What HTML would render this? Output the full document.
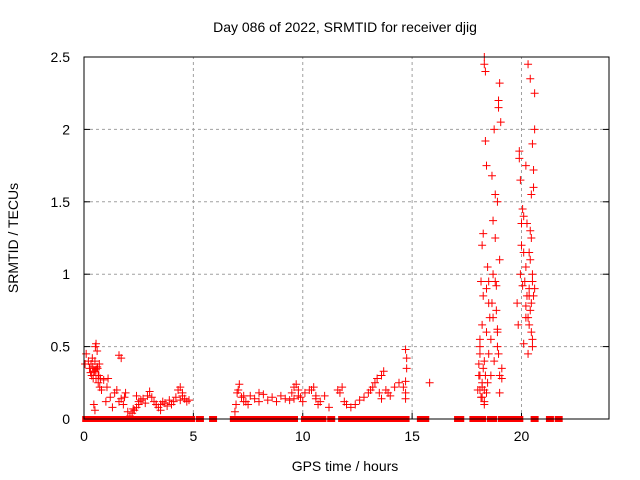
<!DOCTYPE html>
<html><head><meta charset="utf-8">
<style>
body{margin:0;background:#fff;}
svg{display:block;font-family:"Liberation Sans",sans-serif;}
</style></head>
<body>
<svg id="chart" width="640" height="480" viewBox="0 0 640 480">
<text x="345" y="32" font-size="14" text-anchor="middle">Day 086 of 2022, SRMTID for receiver djig</text>
<g id="grid"></g>
<g id="ticks"></g>
<g id="marks"></g>
<rect x="84" y="57" width="525" height="362" fill="none" stroke="#000" stroke-width="1"/>
<text x="345" y="471" font-size="14" text-anchor="middle">GPS time / hours</text>
<text transform="translate(18,238) rotate(-90)" font-size="14" text-anchor="middle">SRMTID / TECUs</text>
</svg>
<script>
const xTicks=[0,5,10,15,20];
const yTicks=[0,0.5,1,1.5,2,2.5];
const yTickLabels=["0","0.5","1","1.5","2","2.5"];
const hours=[0.05,0.1,0.2,0.25,0.3,0.32,0.35,0.38,0.4,0.42,0.45,0.5,0.52,0.55,0.6,0.62,0.65,0.68,0.7,0.72,0.75,0.8,0.9,1.0,1.05,1.1,1.2,1.3,1.4,1.5,1.6,1.7,1.8,1.85,1.9,2.0,2.1,2.2,2.25,2.3,2.4,2.5,2.6,2.7,2.8,2.9,3.0,3.1,3.2,3.3,3.4,3.5,3.6,3.7,3.8,3.9,4.0,4.1,4.2,4.3,4.4,4.5,4.6,4.7,4.8,6.9,6.95,7.0,7.05,7.1,7.2,7.3,7.5,7.6,7.8,8.0,8.2,8.4,8.6,8.8,9.0,9.2,9.4,9.5,9.6,9.7,9.8,9.9,10.0,10.1,10.3,10.5,10.6,10.7,10.8,11.0,11.2,11.6,11.7,11.8,11.9,12.0,12.2,12.4,12.6,12.8,13.0,13.1,13.2,13.3,13.4,13.6,13.7,13.8,13.9,14.0,14.2,14.4,14.7,14.7,14.7,14.75,14.75,15.8,
0.45,0.5,0.55,0.6,0.65,0.5,0.55,1.6,1.7,2.4,2.5,3.3,3.5,4.4,4.5,7.3,7.4,8.0,9.6,9.8,10.4,10.6,13.5,13.6,14.6,14.7,
18.0,18.05,18.1,18.1,18.15,18.2,18.2,18.25,18.25,18.3,18.3,18.3,18.35,18.35,18.4,18.4,18.45,18.2,18.3,18.1,18.4,18.5,18.5,18.6,18.6,18.65,18.7,18.7,18.75,18.8,18.85,18.9,18.9,18.95,18.95,19.0,19.0,19.05,19.1,18.8,18.9,19.0,19.1,18.7,18.85,
18.05,18.1,18.15,18.2,18.25,18.3,18.35,18.1,18.2,18.3,18.4,18.45,18.5,18.55,18.65,18.75,18.8,18.9,19.0,18.95,
19.8,19.85,19.9,19.9,19.95,20.0,20.0,20.05,20.1,20.1,20.15,20.2,20.25,20.2,20.3,20.35,20.35,20.4,20.4,20.45,20.45,20.5,20.5,20.5,20.55,20.55,20.6,20.6,20.4,20.3,20.2,20.5,20.45,20.35,19.95,20.05,
20.1,20.2,20.3,20.4,20.5,20.55,20.35,20.25,20.45,20.6];
const values=[0.38,0.45,0.4,0.35,0.32,0.38,0.3,0.42,0.36,0.28,0.33,0.4,0.5,0.52,0.47,0.35,0.25,0.3,0.38,0.22,0.28,0.2,0.27,0.12,0.22,0.28,0.15,0.08,0.18,0.2,0.12,0.14,0.1,0.15,0.18,0.05,0.02,0.04,0.07,0.06,0.08,0.1,0.13,0.14,0.11,0.16,0.19,0.15,0.12,0.1,0.08,0.1,0.12,0.11,0.09,0.13,0.1,0.12,0.15,0.2,0.22,0.18,0.14,0.12,0.13,0.05,0.1,0.18,0.2,0.24,0.15,0.12,0.1,0.16,0.14,0.12,0.17,0.13,0.15,0.12,0.16,0.14,0.13,0.18,0.22,0.24,0.2,0.15,0.12,0.18,0.2,0.22,0.14,0.1,0.12,0.16,0.08,0.2,0.18,0.22,0.12,0.1,0.08,0.1,0.13,0.15,0.18,0.2,0.22,0.25,0.28,0.3,0.33,0.2,0.18,0.16,0.22,0.25,0.18,0.14,0.48,0.42,0.35,0.25,0.1,0.06,
0.34,0.36,0.3,0.33,0.28,0.44,0.42,0.16,0.12,0.1,0.06,0.13,0.16,0.16,0.12,0.18,0.14,0.16,0.2,0.16,0.18,0.14,0.22,0.26,0.2,0.3,
0.3,0.55,0.95,1.2,0.25,1.28,0.85,2.5,0.2,2.45,2.4,1.92,1.75,0.6,1.05,0.15,0.12,0.45,0.9,0.8,0.95,0.55,0.3,1.68,1.0,1.37,2.0,1.25,0.75,0.62,0.5,2.2,2.15,2.32,1.1,2.05,0.28,1.55,1.5,0.18,0.35,0.7,0.92,0.38,0.2,
0.15,0.22,0.35,0.4,0.3,0.5,0.65,0.1,0.18,0.25,0.45,0.7,0.8,0.4,0.95,0.6,0.3,0.45,0.8,0.65,
1.8,1.85,1.65,1.2,1.35,1.45,1.4,1.15,0.95,1.05,0.85,0.78,0.7,0.9,0.85,1.3,1.1,1.25,0.6,0.5,0.55,1.9,1.72,1.6,2.0,2.25,2.35,2.45,1.75,0.95,0.8,0.65,1.0,0.92,0.52,0.7,
0.45,0.75,1.0,0.85,1.15,1.35,1.55,0.9,1.7,1.25];
const zeroHours=[0.1,0.25,0.4,0.55,0.75,0.9,1.0,1.2,1.45,1.6,1.75,2.0,2.3,2.45,2.6,2.8,3.1,3.25,3.5,3.7,3.85,4.15,4.3,4.5,4.7,4.9,5.3,5.9,6.85,7.05,7.3,7.5,7.7,7.9,8.2,8.4,8.6,8.8,9.1,9.4,9.6,10.1,10.3,10.5,10.7,10.9,11.3,11.8,12.0,12.2,12.4,12.6,12.9,13.1,13.3,13.5,13.7,13.9,14.1,14.3,14.5,14.7,15.4,15.6,17.1,17.2,17.8,18.1,18.2,18.6,18.7,19.1,19.2,19.5,19.6,19.8,19.9,20.6,21.3,21.7];
const NS="http://www.w3.org/2000/svg";
const X0=84,X1=609,Y0=419,Y1=57,XMAX=24,YMAX=2.5;
function xs(h){return X0+h/XMAX*(X1-X0);}
function ys(v){return Y0-v/YMAX*(Y0-Y1);}
const grid=document.getElementById('grid'),ticks=document.getElementById('ticks'),marks=document.getElementById('marks');
function mk(tag,attrs,parent){const e=document.createElementNS(NS,tag);for(const k in attrs)e.setAttribute(k,attrs[k]);parent.appendChild(e);return e;}
xTicks.forEach(t=>{
  const x=xs(t);
  if(t>0){const g=mk('line',{x1:x,y1:Y0,x2:x,y2:Y1,stroke:'#a0a0a0','stroke-dasharray':'3,3'},grid);
  
  }
  const tk=mk('line',{x1:x,y1:Y0,x2:x,y2:Y0-6,stroke:'#000'},ticks);
  
  
  const tx=mk('text',{x:x,y:Y0+22,'font-size':14,'text-anchor':'middle',fill:'#000'},ticks);
  tx.textContent=String(t);
  
  
});
yTicks.forEach((t,i)=>{
  const y=ys(t);
  if(t>0&&t<YMAX){const g=mk('line',{x1:X0,y1:y,x2:X1,y2:y,stroke:'#a0a0a0','stroke-dasharray':'3,3'},grid);
  
  }
  const tk=mk('line',{x1:X0,y1:y,x2:X0+6,y2:y,stroke:'#000'},ticks);
  
  
  const tk2=mk('line',{x1:X1,y1:y,x2:X1-6,y2:y,stroke:'#000'},ticks);
  
  
  const tx=mk('text',{x:X0-14,y:y+5,'font-size':14,'text-anchor':'end',fill:'#000'},ticks);
  tx.textContent=yTickLabels[i];
  
  
});
function plus(x,y,name){
  const p=mk('path',{d:`M${x-4},${y}H${x+4}M${x},${y-4}V${y+4}`,stroke:'#f00','stroke-width':1,fill:'none'},marks);
  
  
}
hours.forEach((h,i)=>plus(xs(h),ys(values[i]),'srmtid-point'));
zeroHours.forEach(h=>{
  const r=mk('rect',{x:xs(h)-4,y:Y0-3,width:8,height:6,fill:'#f00'},marks);
  
  
});
</script>
</body></html>
